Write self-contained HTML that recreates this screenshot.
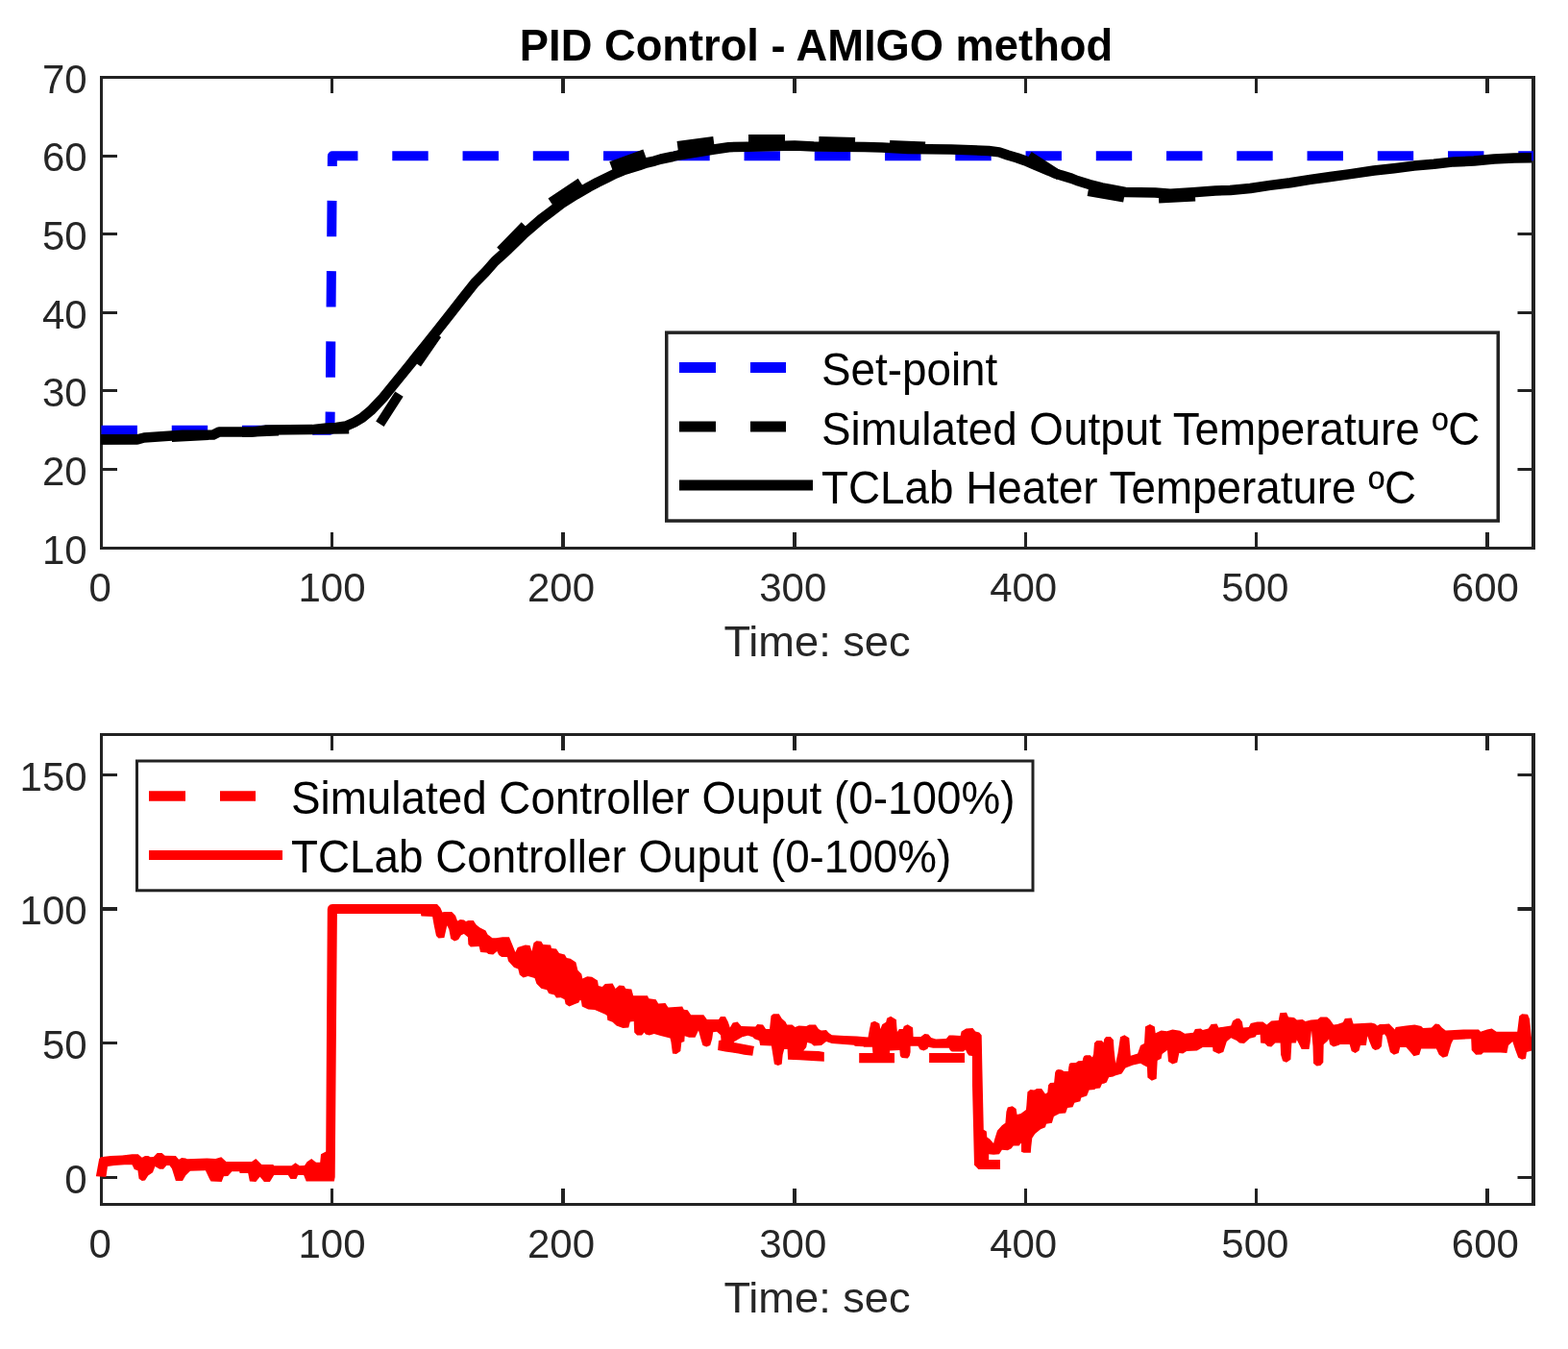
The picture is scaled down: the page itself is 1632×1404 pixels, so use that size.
<!DOCTYPE html>
<html><head><meta charset="utf-8"><title>PID Control - AMIGO method</title><style>*{margin:0;padding:0}html,body{width:1632px;height:1404px;background:#fff;overflow:hidden}
svg{display:block}
text{font-family:"Liberation Sans",Arial,Helvetica,sans-serif}
.tk{font-size:42px;fill:#262626}
.xl{font-size:45.2px;fill:#262626}
.lg{font-size:45.8px;fill:#000}
.ti{font-size:45.3px;font-weight:bold;fill:#000}</style></head>
<body><svg width="1632" height="1404" viewBox="0 0 1632 1404">
<rect width="1632" height="1404" fill="#fff"/>
<path d="M104.0 80.5H1598M104.0 570.5H1598" stroke="#222222" stroke-width="3" fill="none"/>
<path d="M105.5 79.0V572.0" stroke="#222222" stroke-width="3" fill="none"/>
<path d="M1596 79.0V572.0" stroke="#222222" stroke-width="4" fill="none"/>
<path d="M105.5 570.5V554.0M105.5 80.5V97.0M345.5 570.5V554.0M345.5 80.5V97.0M1067.5 570.5V554.0M1067.5 80.5V97.0M1307.5 570.5V554.0M1307.5 80.5V97.0M105.5 570.5H122.0M1596 570.5H1579.5M105.5 488.5H122.0M1596 488.5H1579.5M105.5 406.5H122.0M1596 406.5H1579.5M105.5 325.5H122.0M1596 325.5H1579.5M105.5 243.5H122.0M1596 243.5H1579.5M105.5 162.5H122.0M1596 162.5H1579.5M105.5 80.5H122.0M1596 80.5H1579.5" stroke="#222222" stroke-width="3" fill="none"/>
<path d="M586 570.5V554.0M586 80.5V97.0M827 570.5V554.0M827 80.5V97.0M1548 570.5V554.0M1548 80.5V97.0" stroke="#222222" stroke-width="4" fill="none"/>
<text class="tk" text-anchor="middle" transform="translate(104.3 626) scale(1 1.03)">0</text>
<text class="tk" text-anchor="middle" transform="translate(345.5 626) scale(1 1.03)">100</text>
<text class="tk" text-anchor="middle" transform="translate(584 626) scale(1 1.03)">200</text>
<text class="tk" text-anchor="middle" transform="translate(825.3 626) scale(1 1.03)">300</text>
<text class="tk" text-anchor="middle" transform="translate(1065.2 626) scale(1 1.03)">400</text>
<text class="tk" text-anchor="middle" transform="translate(1306.4 626) scale(1 1.03)">500</text>
<text class="tk" text-anchor="middle" transform="translate(1545.9 626) scale(1 1.03)">600</text>
<text class="tk" text-anchor="end" transform="translate(90.6 586.80) scale(1 1.03)">10</text>
<text class="tk" text-anchor="end" transform="translate(90.6 505.13) scale(1 1.03)">20</text>
<text class="tk" text-anchor="end" transform="translate(90.6 423.47) scale(1 1.03)">30</text>
<text class="tk" text-anchor="end" transform="translate(90.6 341.80) scale(1 1.03)">40</text>
<text class="tk" text-anchor="end" transform="translate(90.6 260.13) scale(1 1.03)">50</text>
<text class="tk" text-anchor="end" transform="translate(90.6 178.47) scale(1 1.03)">60</text>
<text class="tk" text-anchor="end" transform="translate(90.6 96.80) scale(1 1.03)">70</text>
<text x="850.5" y="683" class="xl" text-anchor="middle">Time: sec</text>
<path d="M104.0 764.5H1598M104.0 1253.5H1598" stroke="#222222" stroke-width="3" fill="none"/>
<path d="M105.5 763.0V1255.0" stroke="#222222" stroke-width="3" fill="none"/>
<path d="M1596 763.0V1255.0" stroke="#222222" stroke-width="4" fill="none"/>
<path d="M105.5 1253.5V1237.0M105.5 764.5V781.0M345.5 1253.5V1237.0M345.5 764.5V781.0M1067.5 1253.5V1237.0M1067.5 764.5V781.0M1307.5 1253.5V1237.0M1307.5 764.5V781.0M105.5 1225.5H122.0M1596 1225.5H1579.5M105.5 1085.5H122.0M1596 1085.5H1579.5M105.5 806.5H122.0M1596 806.5H1579.5" stroke="#222222" stroke-width="3" fill="none"/>
<path d="M586 1253.5V1237.0M586 764.5V781.0M827 1253.5V1237.0M827 764.5V781.0M1548 1253.5V1237.0M1548 764.5V781.0M105.5 946H122.0M1596 946H1579.5" stroke="#222222" stroke-width="4" fill="none"/>
<text class="tk" text-anchor="middle" transform="translate(104.3 1309) scale(1 1.03)">0</text>
<text class="tk" text-anchor="middle" transform="translate(345.5 1309) scale(1 1.03)">100</text>
<text class="tk" text-anchor="middle" transform="translate(584 1309) scale(1 1.03)">200</text>
<text class="tk" text-anchor="middle" transform="translate(825.3 1309) scale(1 1.03)">300</text>
<text class="tk" text-anchor="middle" transform="translate(1065.2 1309) scale(1 1.03)">400</text>
<text class="tk" text-anchor="middle" transform="translate(1306.4 1309) scale(1 1.03)">500</text>
<text class="tk" text-anchor="middle" transform="translate(1545.9 1309) scale(1 1.03)">600</text>
<text class="tk" text-anchor="end" transform="translate(90.6 1241.86) scale(1 1.03)">0</text>
<text class="tk" text-anchor="end" transform="translate(90.6 1102.14) scale(1 1.03)">50</text>
<text class="tk" text-anchor="end" transform="translate(90.6 962.43) scale(1 1.03)">100</text>
<text class="tk" text-anchor="end" transform="translate(90.6 822.71) scale(1 1.03)">150</text>
<text x="850.5" y="1366" class="xl" text-anchor="middle">Time: sec</text>
<path d="M105.5 447.8H343.5L345.9 162.2H1596" stroke="#0000ff" stroke-width="10" fill="none" stroke-dasharray="37.4 35.85" stroke-linejoin="round"/>
<path d="M105.5 457.8L143.5 457.4M178.8 455.0L216.8 453.0M252.0 450.0L290.0 448.5M325.2 447.0L363.2 446.4M395.4 441.3L415.5 410.1M433.9 378.6L455.0 348.2M520.8 261.0L546.3 234.8M573.3 210.7L604.4 190.0M636.0 172.9L671.1 160.2M705.2 152.0L742.9 147.0M779.0 145.0L817.0 145.0M852.3 147.0L890.0 148.0M926.0 151.0L963.0 152.5M1071.0 162.1L1102.8 182.8M1132.5 199.0L1170.0 205.7M1206.0 206.5L1244.0 204.5" stroke="#000" stroke-width="10" fill="none"/>
<path d="M105.0 457.3L143.0 457.3L150.0 455.5L190.0 452.8L222.0 452.5L228.0 449.6L262.0 449.6L276.0 447.6L325.0 447.1L340.0 445.5L350.0 445.0L360.0 443.5L369.0 439.5L377.0 434.8L386.0 427.3L399.0 413.6L410.0 400.0L420.0 387.7L426.5 379.7L433.0 371.6L443.1 359.1L456.1 342.8L469.1 326.3L482.0 309.8L494.1 294.5L505.2 283.2L515.1 272.0L528.9 259.5L539.2 249.5L545.2 243.5L552.0 237.8L563.2 228.0L572.6 221.0L584.6 211.8L599.2 202.6L612.9 194.6L621.5 190.0L631.8 185.0L640.0 180.8L648.6 177.3L664.9 172.2L672.6 169.5L681.2 167.6L688.0 165.5L700.0 163.0L706.1 161.5L743.0 155.5L758.4 153.2L779.0 152.7L827.0 151.6L847.0 152.5L900.0 153.0L918.0 153.5L945.0 154.9L990.0 155.5L1029.0 157.0L1040.0 158.4L1049.0 161.5L1058.4 164.2L1067.0 167.2L1079.0 172.5L1092.0 177.8L1098.0 180.5L1106.0 182.9L1115.0 185.6L1121.0 188.0L1134.0 192.0L1146.9 195.4L1155.3 197.0L1171.0 200.0L1202.4 200.5L1218.0 201.7L1241.6 200.3L1265.0 198.5L1280.4 198.0L1301.3 196.0L1322.0 192.9L1342.9 190.2L1363.8 186.9L1384.6 184.0L1405.4 181.1L1430.0 177.5L1450.8 175.2L1471.7 172.6L1492.5 170.8L1513.3 168.4L1534.2 167.6L1555.0 165.6L1575.8 164.5L1594.0 164.3" stroke="#000" stroke-width="10.5" fill="none" stroke-linejoin="round"/>
<path d="M100 1223.5L103.2 1205.9L104.8 1204.3L115.1 1203.1L127.1 1202.4L137.5 1201.2L143.8 1201.2L147.8 1204.7L151 1203.1L154.2 1203.1L156.6 1204.3L159.8 1204L163.7 1200L168.5 1200L171.7 1202.7L182.9 1203.1L186.1 1206.7L189.2 1205.1L193.2 1205.5L194.8 1206.3L215.5 1205.5L224.3 1205.9L230.3 1204.2L235.4 1208.9L262 1208.9L266.3 1205.9L272.3 1211.9L284.3 1211.9L285.2 1213.2L303.4 1213.2L307.5 1210.2L311.8 1213.2L317 1213L319.5 1209.3L324.2 1205.9L329 1209.7L333.2 1209.7L334 1201.2L339.2 1198.6L339.5 1150L340.8 946L341.5 943.5L343.5 941.5L346 941L455 941L458.4 944.7L460.4 949.6L462.4 949.1L470.2 949.1L474.1 953L476.1 958.4L479 957L483 957.5L484.9 958.9L487.4 958.1L492.7 958.1L495.7 962.5L499.6 965.5L505.5 968.4L507.5 972.4L512.4 976.3L516.3 976.3L523.1 975.3L530 975.3L532.9 982.2L536.4 991L538.8 986.1L546.7 983.6L551.6 984.1L553.5 990L555.5 981.2L558.4 979.2L563.3 979.7L565.3 983.1L573.1 983.6L574.1 987.1L579 987.5L582 992L587.8 993.4L589.8 996.9L593.7 997.8L599.4 1001.5L601.4 1009.8L605.3 1013.7L606.3 1018.6L611.2 1016.2L616.1 1016.7L622 1020.6L622.9 1026L626.9 1027L629.8 1024L637.6 1023.5L640.6 1028.9L644.5 1025.5L649.4 1026L651.4 1028.9L657.3 1029.4L659.2 1036.3L673.9 1036.3L675.4 1039.2L682.7 1040.2L685.2 1044.6L692.5 1044.1L695.5 1048.5L710.2 1047.5L711.8 1050.8L715.7 1051.3L719.1 1056.2L732.4 1056.2L735.8 1061.1L748 1061.1L750 1058.1L754.9 1058.1L757.8 1063.5L759.8 1069.4L762.7 1064.5L767.6 1063.5L771.6 1067.9L786.3 1068.4L788.2 1066L794.1 1066.5L797.1 1070.9L801 1070.9L802.5 1057.2L804.9 1055.2L810.8 1055.2L813.7 1060.1L817.6 1063.5L819.1 1066.5L824.5 1066.5L827.5 1068.9L831.4 1067.5L839.2 1067.9L842.2 1066.5L849 1066.5L852 1070.9L854.9 1072.4L860 1071.9L862.6 1074.9L865.8 1077.3L878.5 1078.1L891.8 1078.4L903.5 1079.4L905 1071.1L906.5 1064.2L910.4 1062.7L915.3 1065.2L916.3 1071.1L918.2 1066.2L922.2 1063.7L923.1 1059.8L927.1 1057.8L932.9 1061.3L933.4 1069.1L933.9 1074L935.9 1071.1L939.8 1071.1L940.8 1068.1L944.7 1066.2L950.1 1069.6L950.6 1078.9L958.4 1078.9L962.4 1076L966.3 1076.5L969.2 1079.9L974.1 1081.4L984.9 1080.9L987.8 1077.5L991.8 1077.5L999.6 1077.9L1000.6 1073.5L1005.5 1070.6L1012.4 1070.1L1015.3 1073.5L1019.2 1074.5L1021.7 1077.5L1022.4 1113L1023.8 1175.7L1026.8 1177.6L1027.3 1183.5L1030.2 1185.5L1034.1 1189.9L1035.1 1186L1038 1176.7L1042.9 1171.3L1046.4 1168.8L1047.4 1157.1L1048.8 1152.6L1053.7 1151.2L1057.6 1154.1L1058.6 1160L1062.5 1159L1067.9 1155.1L1068.4 1150.2L1069.4 1136.5L1072.4 1134L1076.3 1134.5L1079.2 1133L1084.1 1133L1088 1138.4L1090.3 1136.9L1091.1 1129.2L1093.1 1127L1097.1 1126.7L1098.2 1116.1L1099.4 1113.8L1101.7 1113L1105.1 1113.6L1107.4 1115L1111.9 1115L1112.2 1111.3L1113 1107.3L1114.2 1106.2L1119.9 1105.9L1122.2 1104.2L1126.7 1103.9L1127.3 1101L1128.4 1099L1130.1 1098.2L1134.7 1098.2L1137 1100.5L1138.1 1097L1139 1085.4L1141.5 1083.1L1146.7 1083.1L1148.7 1085.1L1149.2 1081.4L1151.2 1079.1L1155.8 1079.1L1158.9 1082.2L1159.6 1092.9L1161.1 1106.7L1163.5 1095.9L1166 1079.2L1170.4 1077.3L1175.3 1080.2L1176.8 1098.8L1184.1 1096.4L1187.1 1088L1191 1086.1L1192 1068.4L1196.9 1066L1201.8 1068.4L1202.7 1075.3L1208.6 1072.4L1214.5 1073.3L1220.4 1071.4L1228.2 1072.8L1233.1 1075.8L1242 1074.8L1243.9 1070.9L1249.8 1070.4L1251.8 1071.9L1257.6 1070.4L1260.6 1066L1266.5 1065.5L1268.4 1069.4L1281.2 1067.5L1283.1 1062.5L1287.1 1060.1L1290 1060.1L1292.9 1063.5L1293.9 1069.4L1299.8 1068.9L1301.8 1065L1308.6 1063.5L1314.5 1063.5L1318.4 1066.5L1323.3 1062.5L1330.7 1062.1L1332.2 1054.2L1339 1053.7L1341 1058.6L1346.9 1059.1L1349.8 1061.6L1355.7 1061.1L1358.6 1063L1364.5 1061.6L1371.4 1061.1L1374.3 1058.6L1381.2 1058.6L1384.1 1061.1L1388 1066.5L1392 1066L1397.8 1064L1399.8 1060.1L1406.7 1059.6L1408.6 1065.5L1427.3 1064.5L1431.2 1065.5L1433.6 1067.5L1436.1 1066L1440 1066L1445.9 1065.5L1448.8 1068.4L1451.8 1071.4L1452.7 1068.9L1463.5 1067.5L1472.4 1066.5L1479.2 1067.9L1481.2 1069.9L1490 1069.4L1493.9 1065.5L1497.8 1066L1500.8 1069.4L1504.7 1072.4L1523.3 1071.4L1539 1071.4L1541 1073.8L1547.8 1071.4L1552.7 1070.4L1557.6 1073.8L1579.2 1073.8L1581.2 1057.6L1584.1 1055.2L1590 1055.7L1592 1060.6L1593.9 1079.2L1596 1089L1596 1092.9L1589 1094.9L1588 1101.8L1584.1 1102.7L1580.2 1100.8L1577.3 1092.9L1574.3 1084.1L1570 1088L1568.4 1095.9L1561.6 1095.4L1543.9 1095.4L1542 1097.4L1536.1 1097.8L1531.7 1092.9L1531.2 1081.2L1512.5 1082.2L1510.6 1086.1L1506.7 1099.3L1501.8 1100.8L1497.8 1097.8L1494.9 1091.5L1479.2 1091.5L1477.3 1097.8L1471.4 1099.3L1468.4 1095.4L1463.5 1090L1457.2 1090L1455.7 1095.9L1450.8 1097.8L1446.9 1094.9L1442.9 1079L1441 1076.3L1439 1077.3L1438 1089L1435.1 1092L1431.2 1092.9L1428.2 1091L1425.3 1084.1L1423.3 1078.2L1421.9 1088L1416 1088L1414.5 1093.4L1410.6 1095.9L1406.7 1093.9L1404.7 1087.1L1394.9 1087.1L1392.9 1088L1388 1089.5L1384.1 1087.1L1383.1 1081.2L1381.7 1083.6L1377.7 1087.1L1377.3 1105.7L1374.3 1109.1L1370.4 1109.6L1367 1106.7L1366.5 1089L1365 1072.4L1363.5 1086.1L1362.5 1092L1354.7 1092L1349.8 1082.2L1348.8 1085.6L1344.4 1085.6L1343.4 1102.7L1339 1105.7L1335.1 1104.2L1333.1 1097.8L1332.6 1085.6L1327.3 1085.6L1323.3 1089.5L1319.4 1089L1316.5 1086.1L1312.1 1085.6L1311.6 1076.8L1307.6 1077.3L1306.7 1079.2L1300.8 1080.7L1294.9 1086.1L1290 1085.6L1287.1 1083.1L1281.2 1080.2L1276.8 1084.1L1273.3 1094.9L1268.4 1096.7L1262.5 1093.9L1262.1 1090L1251.8 1090L1245.9 1093.4L1235.1 1093.9L1231.2 1096.4L1227.3 1095.9L1225.3 1105.7L1220.4 1107.6L1216 1104.7L1215 1092.9L1209.6 1096.9L1208.6 1101.8L1204.7 1103.7L1203.7 1122.8L1198.8 1124.8L1194.4 1121.4L1193.9 1110.6L1190 1108.6L1187.1 1106.7L1179.2 1108.6L1171.4 1111.6L1167.5 1117.5L1160.6 1119.4L1158.6 1120.4L1154.1 1121.3L1151.8 1126.4L1149 1127.8L1147 1128.1L1145 1132.6L1140.4 1132.9L1139.3 1134.1L1133.6 1134.6L1131.2 1140.4L1125.3 1142.4L1124.3 1146.3L1118.4 1147.7L1116.5 1152.2L1111.1 1153.1L1109.1 1158.5L1102.7 1159L1096.9 1162L1094.9 1168.8L1089 1169.8L1088 1173.2L1083.1 1175.2L1077.3 1180.1L1074.3 1184.5L1073.3 1193.3L1072.8 1199.7L1065.5 1199.7L1063 1198.7L1063 1189.4L1060.6 1192.4L1054.7 1192.4L1052.7 1195.3L1048.8 1197.3L1042.9 1196.8L1040 1201.2L1034.1 1201.7L1029.2 1201.2L1029.2 1207L1041 1207L1041 1216.9L1018.4 1216.9L1014 1212.5L1012 1130L1011.9 1099L1008.4 1098.5L1006.5 1096.1L1005 1092.6L1002.5 1094.6L990.8 1094.6L988.8 1093.1L987.8 1090.7L971.2 1090.7L966.3 1089.7L965.3 1091.7L961.4 1093.6L957.5 1092.2L955.5 1088.7L947.6 1088.7L947.6 1095.1L946.7 1099L944.7 1101.5L938.8 1101L936.9 1099L936.4 1093.1L926.1 1093.6L926.1 1096L931 1096L931 1106.3L894.2 1106.3L894.2 1096L908.4 1096L907.9 1089.7L899.1 1089.7L898.6 1089.2L889.8 1088.7L888.8 1087.7L865.8 1086L860 1084.1L854.9 1088L847.1 1088.5L844.1 1086.1L840.2 1085.1L839.2 1090L836.3 1093.4L852 1093.9L857.8 1094.9L857.8 1104.7L849 1104.2L832.4 1103.2L820.1 1102.7L819.6 1092L816.2 1092L814.7 1097.8L813.7 1107.6L809.8 1109.1L805.9 1107.6L802.9 1088.5L791.2 1088L790.2 1083.1L785.3 1081.2L783.3 1079.2L778.4 1077.7L772.5 1079.2L763.7 1084.6L764.2 1085.1L785.3 1089L784.8 1089.5L783.3 1098.8L774.5 1097.8L768.6 1096.4L754.9 1094.4L747.1 1092.9L748 1083.1L750.5 1082.6L750 1077.3L746.1 1073.8L742.2 1074.3L741.2 1081.2L739.2 1088L735.3 1089.5L731.4 1088L729.4 1081.2L727 1072.4L723.5 1079.7L717.2 1079.7L712.7 1078.2L712.3 1084.1L709.3 1085.1L708.3 1093.9L703.9 1096.9L700 1096.4L698.4 1084.3L697.5 1080.4L687.6 1077.9L680.8 1076L675.9 1077.5L672 1076.5L670.5 1074.5L668 1077.5L663.1 1077.5L660.2 1074.5L659.7 1063L655.8 1063.5L654.3 1069.6L648.4 1070.1L641.6 1067.6L637.6 1063.7L632.3 1061.8L631.8 1056.9L630 1055.8L624.9 1053.4L619 1051L612.2 1050.5L605.8 1047.5L604.8 1041.2L603.3 1041.2L602.4 1043.6L598.4 1045.1L592.5 1047.5L588.6 1045.1L587.6 1040.2L583.7 1038.2L579 1038.5L577.1 1035.6L571.2 1034.1L569.2 1030.2L563.3 1028.7L558.4 1023.8L556.5 1017.9L549.6 1016L544.7 1017.5L540.8 1014.5L539.3 1008.6L534.9 1006.7L529 1000.3L528 995.9L522.2 995.9L519.2 993.9L517.3 990L513.3 993.4L508.4 992.9L506.5 991.5L500.1 991L498.6 985.1L489.8 985.6L487.4 983.1L486.9 975.3L482.9 971.9L480 973.3L477 978L473.1 979.5L469.2 977L467.3 967.3L465.3 963.3L462.4 976.1L456.5 976.6L454 974.1L451.6 962.4L450.1 954L438.5 953.5L437.8 950.9L350.9 951L348.7 1225L347.8 1229.5L318.7 1229.5L316.1 1223L310.1 1223L308.4 1226.9L302.4 1226.9L299.8 1223L285.2 1223L280.9 1229.9L274.9 1229.9L270.6 1224.7L266.3 1229.9L259.9 1229.5L258.2 1220.9L249.6 1220.9L249.2 1219.2L241.4 1219.2L237.2 1223.9L232.9 1224.3L230.7 1229.9L219.5 1229.4L217.9 1226.7L213.9 1218.3L198 1218.7L193.2 1223.5L190 1229L182.9 1229L178.9 1216.3L176.5 1213.1L173.3 1213.1L170.1 1216.7L166.1 1216.7L161.4 1213.9L159 1220.3L154.2 1223.5L151 1228.6L147.8 1229L144.6 1226.7L143.4 1218.3L139.8 1217.1L137.5 1212.3L129.5 1212.3L119.1 1213.1L112 1213.9L110.4 1225L100 1224.3Z" fill="#ff0000"/>
<path d="M967.1 1101.0L1004.0 1101.0" stroke="#ff0000" stroke-width="10" fill="none" stroke-linejoin="round"/>
<path d="M1596 1050V1130" stroke="#222222" stroke-width="4" fill="none"/>
<rect x="693.75" y="346.15" width="865.5" height="195.89999999999998" fill="#fff" stroke="#222222" stroke-width="3.5"/>
<path d="M707 382.5H745M781 382.5H818" stroke="#0000ff" stroke-width="11" fill="none"/>
<text class="lg" transform="translate(855 400.6) scale(1 1.04)">Set-point</text>
<path d="M707 444H745M781 444H818" stroke="#000" stroke-width="11" fill="none"/>
<text class="lg" transform="translate(855 462.9) scale(1 1.04)">Simulated Output Temperature ºC</text>
<path d="M707 505H846" stroke="#000" stroke-width="11" fill="none"/>
<text class="lg" transform="translate(855 524) scale(1 1.04)">TCLab Heater Temperature ºC</text>
<rect x="142.5" y="792" width="932.5" height="134.79999999999995" fill="#fff" stroke="#222222" stroke-width="3"/>
<path d="M155 828.5H193M229 828.5H266" stroke="#ff0000" stroke-width="10.5" fill="none"/>
<text class="lg" transform="translate(303 846.5) scale(1 1.04)">Simulated Controller Ouput (0-100%)</text>
<path d="M155 890H294" stroke="#ff0000" stroke-width="10" fill="none"/>
<text class="lg" transform="translate(303 907.6) scale(1 1.04)">TCLab Controller Ouput (0-100%)</text>
<text class="ti" text-anchor="middle" transform="translate(849.5 62.7) scale(1 1.02)">PID Control - AMIGO method</text>
</svg></body></html>
